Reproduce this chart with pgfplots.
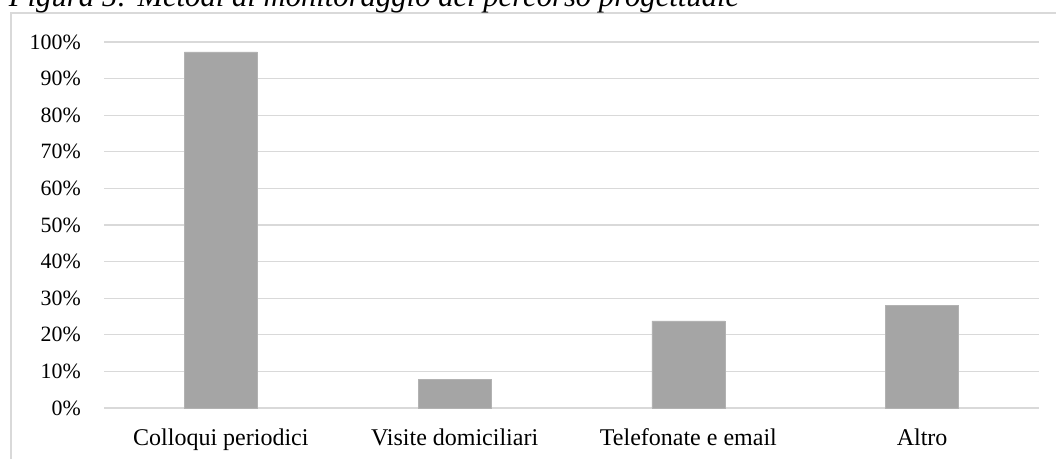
\documentclass[border=0pt]{standalone}
\usepackage{fontspec}
\setmainfont{Liberation Serif}
\usepackage{pgfplots}
\pgfplotsset{compat=1.18}
\definecolor{gridc}{HTML}{D9D9D9}
\definecolor{barc}{HTML}{A5A5A5}
\begin{document}
\begin{tikzpicture}
\useasboundingbox (0,0) rectangle (792pt,344.25pt);
\clip (0,0) rectangle (792pt,344.25pt);
% frame
\draw[gridc, line width=0.9pt] (8.25pt,-20pt) -- (8.25pt,334.5pt) -- (820pt,334.5pt);
% title
\node[anchor=base west, inner sep=0pt, font=\fontsize{23}{27}\selectfont\itshape] at (6.5pt,339.4pt) {Figura 5: Metodi di monitoraggio del percorso progettuale};
\begin{axis}[
  at={(78pt,38.25pt)}, anchor=south west,
  width=701.25pt, height=274.5pt, scale only axis,
  xmin=-0.5, xmax=3.5, ymin=0, ymax=100,
  axis line style={draw=none},
  major tick length=0pt,
  ytick={0,10,...,100},
  yticklabels={0\%,10\%,20\%,30\%,40\%,50\%,60\%,70\%,80\%,90\%,100\%},
  yticklabel style={anchor=east, inner sep=0pt, xshift=-17.25pt, font=\fontsize{16.4}{19}\selectfont},
  xtick={0,1,2,3},
  xticklabels={Colloqui periodici,Visite domiciliari,Telefonate e email,Altro},
  xticklabel style={anchor=base, inner sep=0pt, yshift=-28.5pt, font=\fontsize{18}{21}\selectfont},
  ymajorgrids, grid style={gridc, line width=0.9pt},
  clip=false,
]
\addplot[ybar, bar width=54.75pt, fill=barc, draw=barc!85!white, line width=0.5pt] coordinates {
  (0,97.3) (1,7.8) (2,23.8) (3,28)
};
\end{axis}
\end{tikzpicture}
\end{document}
